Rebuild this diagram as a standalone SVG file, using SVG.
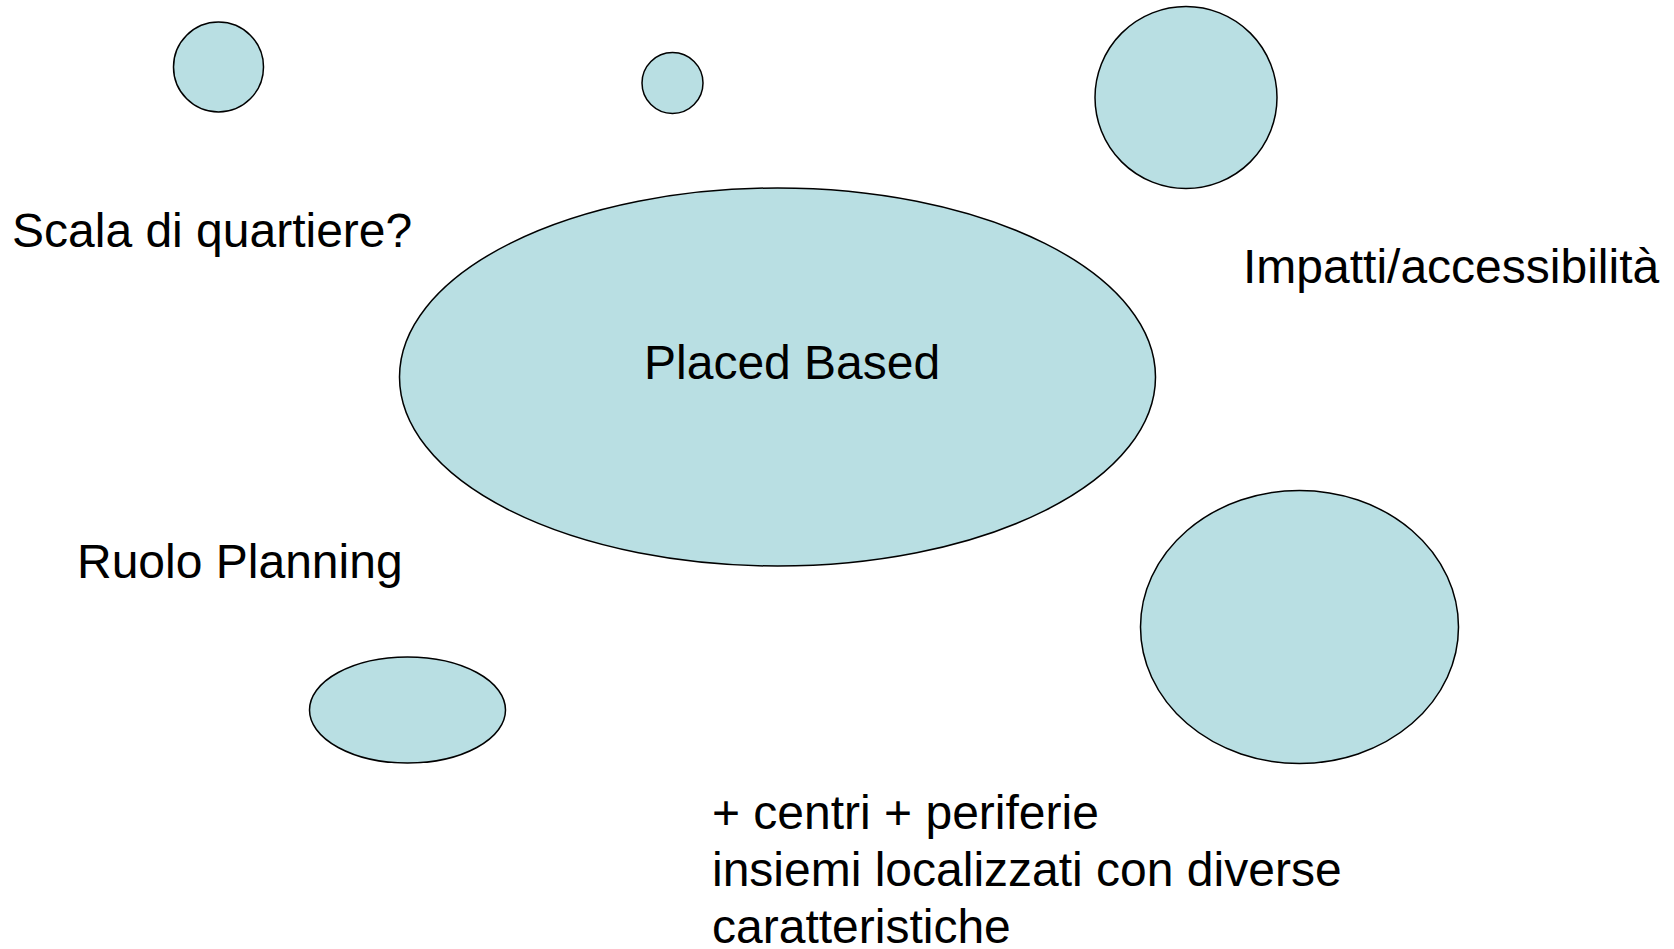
<svg xmlns="http://www.w3.org/2000/svg" width="1674" height="949" viewBox="0 0 1674 949">
<style>
.shape{fill:#b9dfe3;stroke:#000;stroke-width:1.5}
.t{font-family:"Liberation Sans",Arial,sans-serif;font-size:48px;fill:#000}
</style>
<rect width="1674" height="949" fill="#fff"/>
<g id="connectors"></g>
<g id="circle-top-left"><circle class="shape" cx="218.5" cy="67" r="45"/></g>
<g id="circle-top-mid"><circle class="shape" cx="672.5" cy="83" r="30.5"/></g>
<g id="circle-top-right"><circle class="shape" cx="1186" cy="97.5" r="91"/></g>
<g id="placed-based"><ellipse class="shape" cx="777.5" cy="377" rx="378" ry="189"/><text class="t" x="644" y="379">Placed Based</text></g>
<g id="ellipse-right"><ellipse class="shape" cx="1299.5" cy="627" rx="159" ry="136.5"/></g>
<g id="ellipse-small"><ellipse class="shape" cx="407.5" cy="710" rx="98" ry="53"/></g>
<g id="label-scala"><text class="t" x="12" y="247">Scala di quartiere?</text></g>
<g id="label-impatti"><text class="t" x="1243" y="283">Impatti/accessibilità</text></g>
<g id="label-ruolo"><text class="t" x="77" y="578">Ruolo Planning</text></g>
<g id="label-centri"><text class="t" x="712" y="829">+ centri + periferie</text><text class="t" x="712" y="886">insiemi localizzati con diverse</text><text class="t" x="712" y="943">caratteristiche</text></g>
</svg>
